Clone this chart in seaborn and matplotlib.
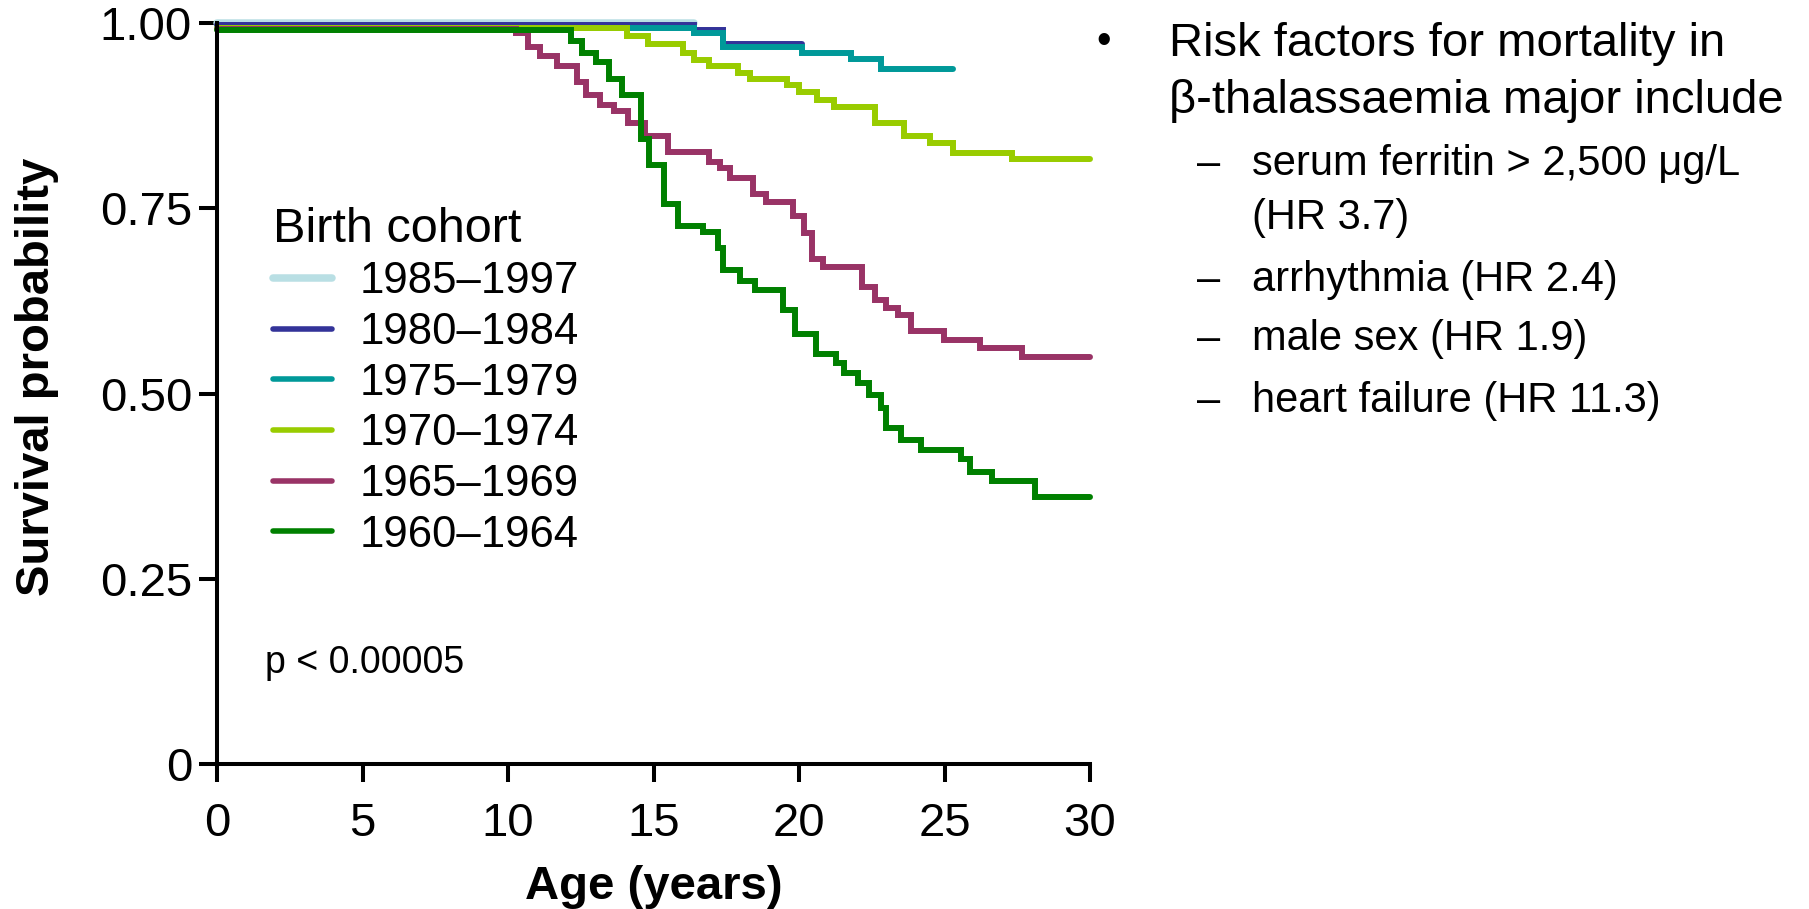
import numpy as np
import pandas as pd
import matplotlib
matplotlib.use('Agg')
import matplotlib.pyplot as plt
import seaborn as sns

# Kaplan-Meier step data (age in years, survival probability)
cohorts = ['1985\u20131997', '1980\u20131984', '1975\u20131979',
           '1970\u20131974', '1965\u20131969', '1960\u20131964']
colors = ['#b9dfe4', '#333399', '#009999', '#99cc00', '#993366', '#008000']

t_1985 = [0, 16.4]
s_1985 = [1.0, 1.0]

t_1980 = [0, 16.4, 17.4, 20.1]
s_1980 = [0.997, 0.990, 0.971, 0.971]

t_1975 = [0, 16.4, 17.4, 20.1, 21.8, 22.8, 25.3]
s_1975 = [0.993, 0.986, 0.968, 0.960, 0.951, 0.938, 0.938]

t_1970 = [0, 14.1, 14.8, 16.0, 16.4, 16.9, 17.9, 18.3, 19.6, 20.0, 20.6, 21.2,
          22.6, 23.6, 24.5, 25.3, 27.3, 30]
s_1970 = [0.993, 0.982, 0.971, 0.960, 0.950, 0.942, 0.933, 0.925, 0.916, 0.907,
          0.896, 0.886, 0.865, 0.847, 0.838, 0.825, 0.817, 0.817]

t_1965 = [0, 10.26, 10.69, 11.08, 11.68, 12.37, 12.67, 13.16, 13.64, 14.12, 14.72,
          15.5, 16.9, 17.28, 17.61, 18.40, 18.86, 19.78, 20.17, 20.44, 20.83, 22.15,
          22.61, 23.0, 23.4, 23.86, 24.97, 26.22, 27.67, 30]
s_1965 = [0.992, 0.986, 0.968, 0.955, 0.942, 0.921, 0.903, 0.889, 0.881, 0.865, 0.847,
          0.826, 0.812, 0.804, 0.791, 0.769, 0.758, 0.739, 0.717, 0.682, 0.671, 0.644,
          0.626, 0.615, 0.606, 0.584, 0.572, 0.562, 0.549, 0.549]

t_1960 = [0, 12.16, 12.55, 13.03, 13.47, 13.93, 14.56, 14.85, 15.35, 15.84, 16.7,
          17.22, 17.38, 17.98, 18.47, 19.45, 19.85, 20.57, 21.27, 21.56, 22.02, 22.41,
          22.81, 23.0, 23.5, 24.19, 25.57, 25.87, 26.62, 28.1, 30]
s_1960 = [0.990, 0.976, 0.960, 0.948, 0.925, 0.903, 0.843, 0.809, 0.756, 0.726, 0.718,
          0.696, 0.666, 0.652, 0.640, 0.613, 0.580, 0.553, 0.541, 0.528, 0.514, 0.498,
          0.480, 0.454, 0.437, 0.424, 0.411, 0.394, 0.382, 0.360, 0.360]

x_ticks = [0, 5, 10, 15, 20, 25, 30]
y_ticks = [0, 0.25, 0.50, 0.75, 1.00]
y_ticklabels = ['0', '0.25', '0.50', '0.75', '1.00']

bullet_lines = ['Risk factors for mortality in', '\u03b2-thalassaemia major include']
sub_items = ['serum ferritin > 2,500 \u03bcg/L', '(HR 3.7)', 'arrhythmia (HR 2.4)',
             'male sex (HR 1.9)', 'heart failure (HR 11.3)']

times = [t_1985, t_1980, t_1975, t_1970, t_1965, t_1960]
survs = [s_1985, s_1980, s_1975, s_1970, s_1965, s_1960]
frames = []
for name, t, s in zip(cohorts, times, survs):
    frames.append(pd.DataFrame({'age': t, 'surv': s, 'cohort': name}))
df = pd.concat(frames, ignore_index=True)

sns.set_style('ticks')
plt.rcParams['font.family'] = ['Liberation Sans', 'DejaVu Sans']
plt.rcParams['text.color'] = 'black'
plt.rcParams['axes.labelcolor'] = 'black'
plt.rcParams['xtick.color'] = 'black'
plt.rcParams['ytick.color'] = 'black'

fig = plt.figure(figsize=(18.09, 9.09), dpi=100)
ax = fig.add_axes([0.12, 0.1595, 0.4826, 0.8152])

sns.lineplot(data=df, x='age', y='surv', hue='cohort', hue_order=cohorts,
             palette=colors, drawstyle='steps-post', estimator=None, sort=True,
             ax=ax)

for line in ax.lines:
    line.set_clip_on(False)
    line.set_linewidth(4.3)
    line.set_solid_joinstyle('miter')
    if matplotlib.colors.to_hex(line.get_color()) == colors[0]:
        line.set_linewidth(5.4)

ax.set_xlim(0, 30)
ax.set_ylim(0, 1)
ax.set_xticks(x_ticks)
ax.set_yticks(y_ticks)
ax.set_yticklabels(y_ticklabels)
sns.despine(ax=ax)
for sp in ['left', 'bottom']:
    ax.spines[sp].set_linewidth(2.9)
    ax.spines[sp].set_color('black')
ax.tick_params(direction='out', length=13, width=2.9, labelsize=34, color='black')
ax.tick_params(axis='y', pad=5)
ax.tick_params(axis='x', pad=14)

ax.set_xlabel('Age (years)', fontsize=34, fontweight='bold', va='center')
ax.set_ylabel('Survival probability', fontsize=34, fontweight='bold', va='center')
ax.xaxis.set_label_coords(0.5, -0.166)
ax.yaxis.set_label_coords(-0.206, 0.5227)

old = ax.get_legend()
handles = old.legend_handles
labels = [t.get_text() for t in old.texts]
leg = ax.legend(handles, labels, title='Birth cohort', loc='upper left',
                bbox_to_anchor=(0.064, 0.752), frameon=False, fontsize=31.5,
                title_fontsize=35, handlelength=1.35, handletextpad=0.62,
                labelspacing=0.22, borderpad=0, borderaxespad=0, alignment='left')
for h in leg.legend_handles:
    h.set_linewidth(4.0)
leg.legend_handles[0].set_linewidth(5.4)

ax.text(0.055, 0.1363, 'p < 0.00005', transform=ax.transAxes, fontsize=27,
        va='center', ha='left')

# bullet text on the right
fig.text(0.6103, 0.954, '\u2022', fontsize=30, ha='center', va='center')
fig.text(0.6462, 0.952, bullet_lines[0], fontsize=34, ha='left', va='center')
fig.text(0.6462, 0.889, bullet_lines[1], fontsize=34, ha='left', va='center')
sub_y = [0.8193, 0.760, 0.6918, 0.6273, 0.5592]
for i, (txt, yy) in enumerate(zip(sub_items, sub_y)):
    if i != 1:
        fig.text(0.668, yy, '\u2013', fontsize=30, ha='center', va='center')
    fig.text(0.692, yy, txt, fontsize=30, ha='left', va='center')

fig.savefig('out.png', dpi=100)
